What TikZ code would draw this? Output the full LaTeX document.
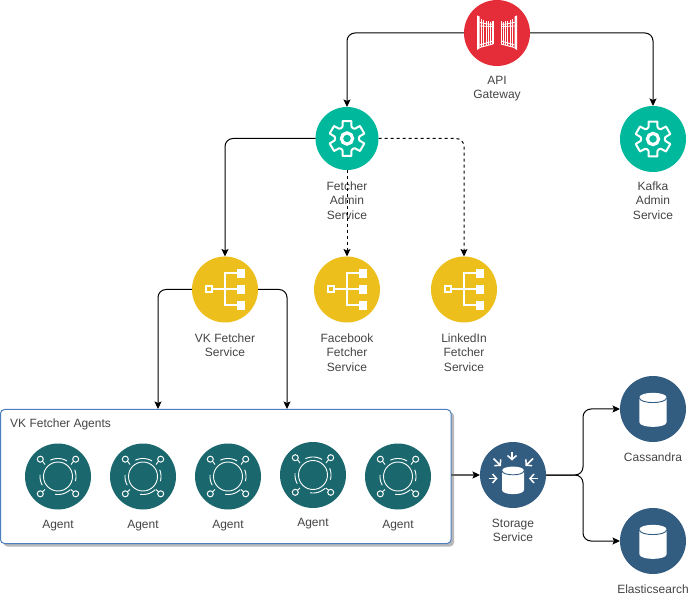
\documentclass[tikz,border=0pt]{standalone}
\usepackage{fontspec}
\setmainfont{Liberation Sans}
\usetikzlibrary{arrows.meta,calc}
\definecolor{gwred}{HTML}{E52D3A}
\definecolor{adminteal}{HTML}{00B89C}
\definecolor{fetchyellow}{HTML}{ECBF1C}
\definecolor{agentteal}{HTML}{1A686D}
\definecolor{storeblue}{HTML}{325C80}
\definecolor{boxblue}{HTML}{4A7EBF}
\definecolor{labelgrey}{HTML}{444444}
\newcommand{\dbshape}[5]{% radius, top, bottom, curve, line colour
  \fill[white] (-#1,#2) -- (-#1,#3) .. controls (-#1,#3+#4) and (#1,#3+#4) .. (#1,#3)
     -- (#1,#2) .. controls (#1,#2-#4) and (-#1,#2-#4) .. (-#1,#2) -- cycle;
  \draw[#5,line width=.9pt] (-#1,#2) .. controls (-#1,#2+#4) and (#1,#2+#4) .. (#1,#2);
}
\tikzset{
  x=1pt,y=-1pt,
  disc/.style={circle,minimum size=66pt,inner sep=0pt,outer sep=0pt,draw=none},
  txt/.style={align=center,text=labelgrey,font=\fontsize{12}{14.4}\selectfont,inner sep=0pt},
  link/.style={draw=black,line width=1pt,rounded corners=8pt,-{Stealth[length=7.5pt,width=7pt,inset=1.5pt]}},
  dlink/.style={link,dash pattern=on 3pt off 3pt},
  greylink/.style={draw=black!62,line width=1.3pt,-{Stealth[length=7.5pt,width=7pt,inset=1.5pt,color=black]}},
  gateicon/.pic={
    \foreach \s in {-1,1}{
      \begin{scope}[xscale=\s]
        \fill[white] (-20,-17.5) -- (-17.5,-16.5) -- (-17.5,15.5) -- (-20,17) -- cycle;
        \draw[white,line width=.9pt] (-17.5,-10.5) .. controls (-12,-10) and (-9,-8) .. (-4,-9);
        \draw[white,line width=.9pt] (-17.5,-7) -- (-4,-6.5);
        \draw[white,line width=1pt] (-17.5,12) -- (-4,8);
        \draw[white,line width=1pt] (-17.5,14.5) -- (-4,11);
        \foreach \bx/\bt/\bb in {-15.5/-13.5/14,-13.2/-12.5/13.5,-10.9/-12/13,-8.6/-11.5/12.5,-6.3/-11/12}
          \draw[white,line width=.9pt] (\bx,\bt) -- (\bx,\bb);
        \fill[white] (-5,-11.5) rectangle (-3.5,11.5);
      \end{scope}
    }
  },
  gearicon/.pic={
    \foreach \a in {-90,-30,30,90,150,210}
      \draw[white,line width=2pt,line join=round,line cap=round]
        (\a-30:11.8) -- (\a-21:12.6) -- (\a-14:18) -- (\a+14:18) -- (\a+21:12.6) -- (\a+30:11.8);
    \draw[white,line width=3.2pt] (0,0) circle[radius=5.6pt];
  },
  treeicon/.pic={
    \draw[white,line width=2pt] (-19.5,-3) rectangle (-13.5,3);
    \draw[white,line width=2pt] (-12.6,0) -- (12,0) (0,-16) -- (0,16) (-1,-16) -- (12,-16) (-1,16) -- (12,16);
    \foreach \r in {-16,0,16}
      \fill[white] (12,\r-4.2) rectangle (20.2,\r+4.2);
  },
  agenticon/.pic={
    \draw[white,line width=.9pt] (0,0) circle[radius=14.5pt];
    \foreach \ca/\cb in {-115/-60,-22/15,47/99,151/185}{
      \draw[white,line width=.9pt] plot[domain=\ca:\cb,samples=14,smooth] ({18*cos(\x)},{18*sin(\x)});
    }
    \foreach \sx/\sy/\lx/\ly in {-1/-1/-13/-12,1/-1/13/-12,-1/1/-13/13,1/1/13/13}{
      \draw[white,line width=1pt] (17.7*\sx,17.3*\sy) circle[radius=3pt];
      \draw[white,line width=.9pt] (15.4*\sx,15.2*\sy) -- (\lx,\ly);
    }
  },
  dbicon/.pic={\dbshape{13.7}{-11.3}{13}{6.5}{storeblue}},
  storeicon/.pic={
    \dbshape{11}{-4.3}{15}{5.5}{storeblue}
    \begin{scope}[white,line width=1.5pt,-{Straight Barb[length=4pt,width=9pt]}]
      \draw (-24.5,3.5) -- (-15.5,3.5);
      \draw (25,3.5) -- (16,3.5);
      \draw (-1,-23.5) -- (-1,-14.5);
      \draw (-19.5,-16.5) -- (-12,-9);
      \draw (20,-16.5) -- (12.5,-9);
    \end{scope}
  }
}
\begin{document}
\begin{tikzpicture}
\useasboundingbox (0,0) rectangle (689,596);

% container
\fill[black!28,rounded corners=4pt] (3.5,412) rectangle (454,546.5);
\node[draw=boxblue,fill=white,line width=1pt,rounded corners=4pt,minimum width=450.5pt,minimum height=134pt,inner sep=0pt,outer sep=0pt,anchor=north west] (agents) at (.5,409.5) {};
\node[txt,anchor=west] (agentstitle) at (10,424) {VK Fetcher Agents};

% discs
\node[disc,fill=gwred] (gw) at (497,33) {};
\node[disc,fill=adminteal,minimum size=63pt] (fadmin) at (347,138.5) {};
\node[disc,fill=adminteal] (kadmin) at (653,139) {};
\node[disc,fill=fetchyellow] (vk) at (225,289.5) {};
\node[disc,fill=fetchyellow] (fb) at (347,289.5) {};
\node[disc,fill=fetchyellow] (li) at (464,289.5) {};
\node[disc,fill=agentteal] (a1) at (58,476.5) {};
\node[disc,fill=agentteal] (a2) at (143,476.5) {};
\node[disc,fill=agentteal] (a3) at (228,476.5) {};
\node[disc,fill=agentteal] (a4) at (313,475) {};
\node[disc,fill=agentteal] (a5) at (398,476.5) {};
\node[disc,fill=storeblue] (store) at (513,475) {};
\node[disc,fill=storeblue] (cass) at (653,409) {};
\node[disc,fill=storeblue] (es) at (653,541) {};

% icons
\pic at (gw) {gateicon};
\pic at (fadmin) {gearicon};
\pic at (kadmin) {gearicon};
\pic at (vk) {treeicon};
\pic at (fb) {treeicon};
\pic at (li) {treeicon};
\pic at (a1) {agenticon};
\pic at (a2) {agenticon};
\pic at (a3) {agenticon};
\pic at (a4) {agenticon};
\pic at (a5) {agenticon};
\pic at (store) {storeicon};
\pic at (cass) {dbicon};
\pic at (es) {dbicon};

% labels
\node[txt] (gwl) at (497,88.7) {API\\Gateway};
\node[txt] (fadminl) at (347,200.5) {Fetcher\\Admin\\Service};
\node[txt] (kadminl) at (653,200.5) {Kafka\\Admin\\Service};
\node[txt] (vkl) at (225,345) {VK Fetcher\\Service};
\node[txt] (fbl) at (347,352.5) {Facebook\\Fetcher\\Service};
\node[txt] (lil) at (464,352.5) {LinkedIn\\Fetcher\\Service};
\node[txt] (a1l) at (58,525.7) {Agent};
\node[txt] (a2l) at (143,525.7) {Agent};
\node[txt] (a3l) at (228,525.7) {Agent};
\node[txt] (a4l) at (313,523.7) {Agent};
\node[txt] (a5l) at (398,525.7) {Agent};
\node[txt] (storel) at (513,530.4) {Storage\\Service};
\node[txt] (cassl) at (653,457) {Cassandra};
\node[txt] (esl) at (653,589) {Elasticsearch};

% free ends on the container
\coordinate (in1) at (158,409);
\coordinate (in2) at (287,409);

% connectors
\draw[link] (gw.west) -| (fadmin.north);
\draw[link] (gw.east) -| (kadmin.north);
\draw[link] (fadmin.west) -| (vk.north);
\draw[dlink] (fadmin.south) -- (fb.north);
\draw[dlink] (fadmin.east) -| (li.north);
\draw[link] (vk.west) -| (in1);
\draw[link] (vk.east) -| (in2);
\draw[greylink] (agents.east |- store.west) -- (store.west);
\draw[link] (store.east) -- ++(37,0) |- (cass.west);
\draw[link] (store.east) -- ++(37,0) |- (es.west);
\end{tikzpicture}
\end{document}
